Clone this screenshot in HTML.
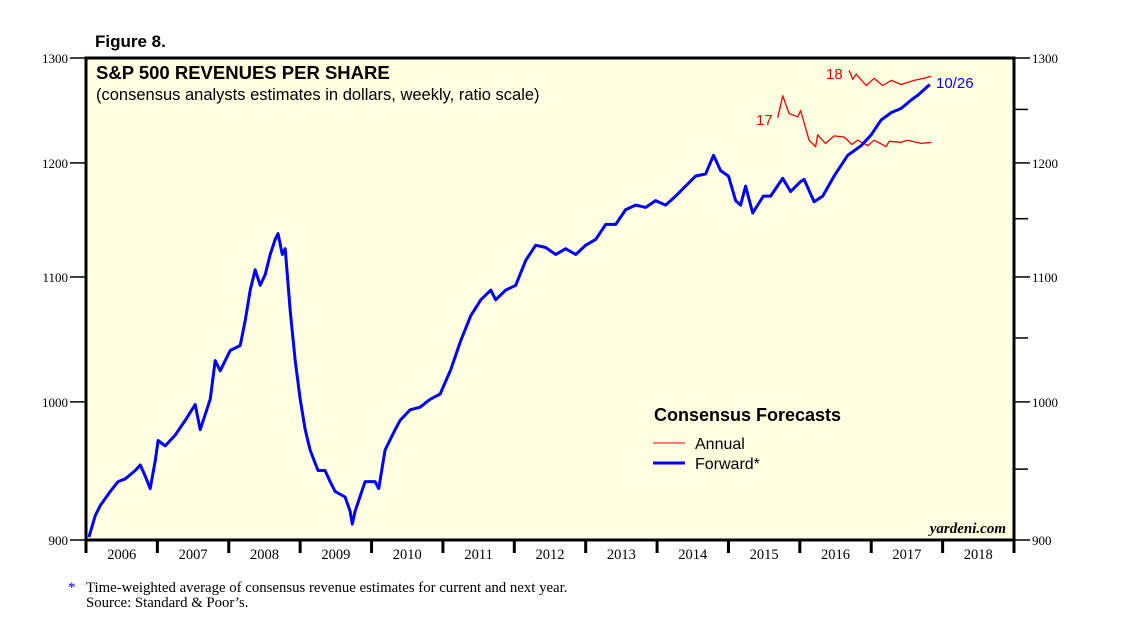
<!DOCTYPE html>
<html><head><meta charset="utf-8"><style>
body{margin:0;background:#fff;}
svg{display:block;font-family:"Liberation Sans",sans-serif;}
</style></head><body>
<svg id="chart" width="1138" height="626" viewBox="0 0 1138 626">
<rect x="86" y="58" width="928" height="482" fill="#ffffe2"/>
<text x="95" y="47" font-size="17" font-weight="bold">Figure 8.</text>
<text x="96" y="79" font-size="18.5" font-weight="bold">S&amp;P 500 REVENUES PER SHARE</text>
<text x="96" y="100" font-size="16.5">(consensus analysts estimates in dollars, weekly, ratio scale)</text>
<g id="axes"></g>
<g id="series"></g>
<text x="654" y="421" font-size="18" font-weight="bold">Consensus Forecasts</text>
<line x1="653" y1="443" x2="685" y2="443" stroke="#e00" stroke-width="1"/>
<text x="695" y="449" font-size="16">Annual</text>
<line x1="653" y1="463" x2="685" y2="463" stroke="#00f" stroke-width="3"/>
<text x="695" y="469" font-size="16">Forward*</text>
<text x="1006" y="533" font-size="15" font-style="italic" font-weight="bold" text-anchor="end" font-family="Liberation Serif,serif">yardeni.com</text>
<text x="756" y="125" font-size="15" fill="#e00">17</text>
<text x="826" y="79" font-size="15" fill="#e00">18</text>
<text x="936" y="88" font-size="15" fill="#00f">10/26</text>
<text x="68" y="592" font-size="15" fill="#00f" font-family="Liberation Serif,serif">*</text>
<text x="86" y="592" font-size="14.8" font-family="Liberation Serif,serif">Time-weighted average of consensus revenue estimates for current and next year.</text>
<text x="86" y="607" font-size="14.8" font-family="Liberation Serif,serif">Source: Standard &amp; Poor’s.</text>
</svg>
<script>
const yTicks=[900,1000,1100,1200,1300];
const minorTicks=[950,1050,1150,1250];
const years=[2006,2007,2008,2009,2010,2011,2012,2013,2014,2015,2016,2017,2018];
const fwdT=[2006.04,2006.13,2006.2,2006.34,2006.45,2006.55,2006.69,2006.76,2006.83,2006.9,2006.97,2007.01,2007.11,2007.25,2007.39,2007.53,2007.6,2007.74,2007.81,2007.88,2008.02,2008.16,2008.23,2008.3,2008.37,2008.44,2008.51,2008.58,2008.65,2008.69,2008.75,2008.79,2008.86,2008.93,2009.0,2009.07,2009.14,2009.25,2009.35,2009.42,2009.49,2009.63,2009.7,2009.73,2009.77,2009.91,2010.05,2010.1,2010.19,2010.33,2010.4,2010.54,2010.68,2010.82,2010.96,2011.11,2011.25,2011.39,2011.53,2011.67,2011.74,2011.88,2012.02,2012.16,2012.3,2012.44,2012.58,2012.72,2012.86,2013.0,2013.14,2013.28,2013.42,2013.56,2013.7,2013.84,2013.98,2014.12,2014.26,2014.4,2014.54,2014.68,2014.79,2014.89,2015.0,2015.1,2015.17,2015.24,2015.34,2015.49,2015.59,2015.76,2015.87,2016.01,2016.06,2016.2,2016.32,2016.48,2016.67,2016.86,2017.0,2017.14,2017.28,2017.42,2017.56,2017.66,2017.82];
const fwdV=[902,917,924,934,941,943,949,953,945,936,956,971,967,975,986,998,979,1002,1032,1024,1040,1044,1064,1089,1106,1093,1102,1119,1132,1137,1119,1124,1072,1032,1002,979,964,949,949,941,934,930,920,911,920,941,941,936,964,979,986,994,996,1002,1006,1025,1048,1068,1081,1089,1081,1089,1093,1114,1127,1125,1119,1124,1119,1127,1132,1145,1145,1158,1162,1160,1166,1162,1170,1179,1188,1190,1207,1193,1188,1166,1162,1179,1155,1170,1170,1186,1174,1183,1185,1165,1170,1188,1207,1216,1226,1240,1247,1251,1259,1264,1274];
const a17T=[2015.69,2015.76,2015.85,2015.97,2016.01,2016.13,2016.22,2016.25,2016.36,2016.48,2016.62,2016.73,2016.81,2016.95,2017.04,2017.21,2017.25,2017.42,2017.51,2017.7,2017.84];
const a17V=[1242,1263,1246,1243,1249,1221,1215,1226,1218,1225,1224,1217,1221,1216,1221,1215,1220,1219,1221,1218,1219];
const a18T=[2016.69,2016.74,2016.79,2016.93,2017.04,2017.16,2017.28,2017.42,2017.6,2017.74,2017.84];
const a18V=[1288,1279,1284,1273,1280,1273,1278,1274,1278,1280,1282];

const X0=86,X1=1014,Y0=540,Y1=58;
const xs=t=>X0+(t-2006)*(X1-X0)/13;
const ys=v=>Y0-Math.log(v/900)/Math.log(1300/900)*(Y0-Y1);
const NS="http://www.w3.org/2000/svg";
function mk(tag,attrs,parent){const e=document.createElementNS(NS,tag);for(const k in attrs)e.setAttribute(k,attrs[k]);parent.appendChild(e);return e;}
const ax=document.getElementById('axes');
const frame=mk('rect',{x:X0,y:Y1,width:X1-X0,height:Y0-Y1,fill:'none',stroke:'#000','stroke-width':3},ax);


yTicks.forEach(v=>{const y=ys(v);
 const l=mk('line',{x1:X0-16,y1:y,x2:X0,y2:y,stroke:'#000','stroke-width':1.5},ax);
 
 
 const r=mk('line',{x1:X1,y1:y,x2:X1+16,y2:y,stroke:'#000','stroke-width':1.5},ax);
 
 
 const t=mk('text',{x:X0-18,y:y+5,'font-size':13,'text-anchor':'end','font-family':'Liberation Serif,serif'},ax);t.textContent=v;
 
 
 const t2=mk('text',{x:X1+18,y:y+5,'font-size':13,'font-family':'Liberation Serif,serif'},ax);t2.textContent=v;
 
 
});
minorTicks.forEach(v=>{const y=ys(v);
 const r=mk('line',{x1:X1,y1:y,x2:X1+14,y2:y,stroke:'#000','stroke-width':1.5},ax);
 
 
});
for(let i=0;i<=years.length;i++){const x=xs(2006+i);
 const l=mk('line',{x1:x,y1:Y0,x2:x,y2:Y0+13,stroke:'#000','stroke-width':3},ax);
 
 
}
years.forEach(yr=>{const t=mk('text',{x:xs(yr+0.5),y:Y0+19,'font-size':14.5,'text-anchor':'middle','font-family':'Liberation Serif,serif'},ax);t.textContent=yr;
 
 
});
const sg=document.getElementById('series');
function line(T,V,color,w,name){const d=T.map((t,i)=>(i?'L':'M')+xs(t).toFixed(1)+','+ys(V[i]).toFixed(1)).join('');
 const p=mk('path',{d:d,fill:'none',stroke:color,'stroke-width':w,'stroke-linejoin':'round'},sg);
 
 
}
line(a17T,a17V,'#e00',1.3,'annual-2017-line');
line(a18T,a18V,'#e00',1.3,'annual-2018-line');
line(fwdT,fwdV,'#00f',3,'forward-line');
</script>
</body></html>
